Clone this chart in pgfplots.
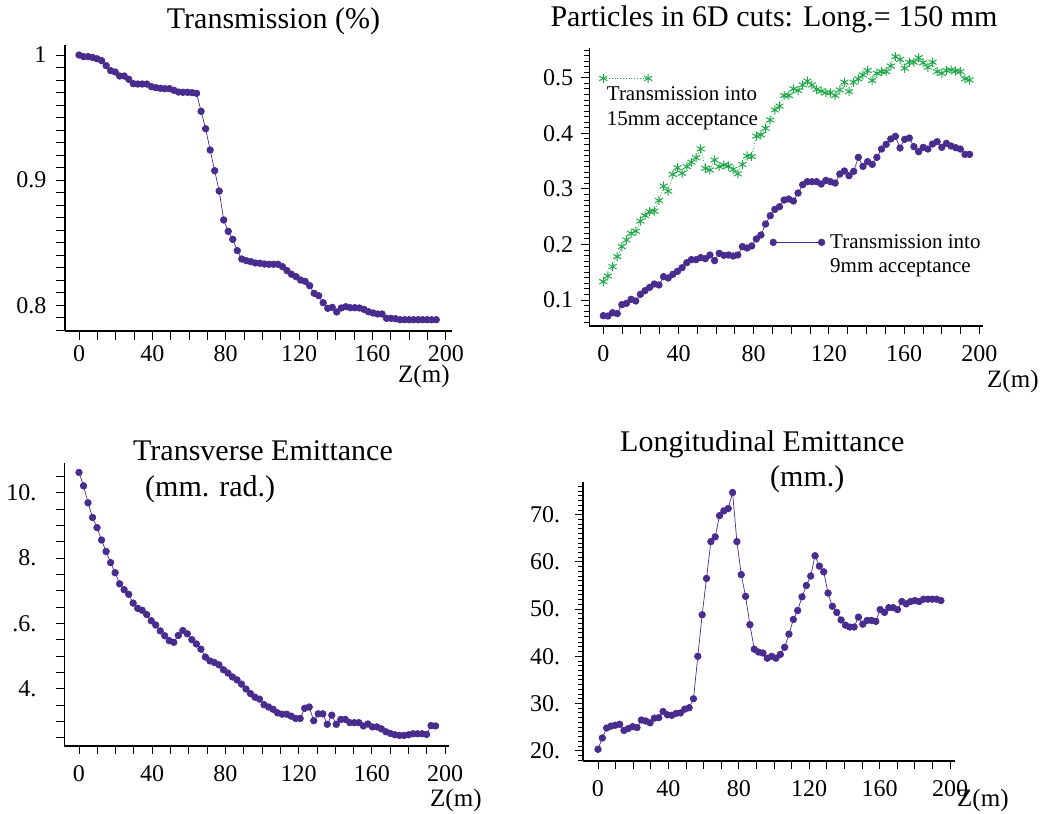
\documentclass[border=0pt]{standalone}
\usepackage{fontspec}
\setmainfont{Liberation Serif}
\usepackage{pgfplots}
\usepackage{pgfplotstable}
\pgfplotsset{compat=1.18}
\definecolor{mpurple}{RGB}{72,44,142}
\definecolor{mgreen}{RGB}{30,168,72}

\pgfplotstableread{
z T c9 c15 ex el
0.00 1.000 .0718 .133 10.62 20.3
2.47 .9987 .0712 .143 10.21 22.7
4.93 .9987 .0772 .160 9.69 24.8
7.40 .998 .0754 .178 9.24 25.2
9.86 .997 .0916 .196 8.93 25.4
12.33 .9955 .094 .208 8.55 25.6
14.80 .9915 .1012 .220 8.20 24.3
17.26 .9875 .0982 .224 7.86 24.7
19.73 .9864 .1102 .242 7.55 25.1
22.19 .9832 .1168 .252 7.21 24.9
24.66 .9832 .1228 .259 7.03 26.5
27.13 .9806 .1288 .260 6.89 26.3
29.59 .9771 .127 .279 6.62 25.9
32.06 .9768 .142 .305 6.46 26.9
34.52 .9768 .1396 .296 6.40 27.0
36.99 .9768 .1462 .326 6.27 28.3
39.46 .9747 .1516 .338 6.08 27.6
41.92 .9739 .1582 .328 5.95 27.5
44.39 .9734 .1672 .340 5.77 27.9
46.85 .9731 .1726 .348 5.62 28.0
49.32 .9731 .1726 .356 5.47 28.8
51.79 .9718 .1762 .372 5.42 29.1
54.25 .9704 .1744 .337 5.63 31.0
56.72 .9702 .181 .334 5.78 40.0
59.18 .9702 .1708 .352 5.68 48.8
61.65 .9699 .184 .340 5.50 56.5
64.12 .9694 .1804 .343 5.37 64.3
66.58 .955 .181 .341 5.21 65.3
69.05 .9411 .1792 .335 4.97 69.8
71.51 .9241 .181 .327 4.85 70.8
73.98 .9076 .196 .344 4.80 71.3
76.45 .8913 .1936 .359 4.73 74.7
78.91 .8682 .1972 .358 4.58 64.3
81.38 .8591 .2098 .395 4.48 57.3
83.84 .8527 .217 .397 4.36 52.7
86.31 .8437 .2367 .409 4.27 46.7
88.78 .8370 .2517 .424 4.14 41.5
91.24 .8357 .2631 .442 3.99 40.9
93.71 .8349 .2679 .449 3.85 40.7
96.17 .8338 .2799 .468 3.74 39.6
98.64 .8336 .2817 .468 3.68 40.0
101.11 .8330 .2781 .480 3.51 39.6
103.57 .8328 .2925 .477 3.44 40.4
106.04 .8328 .3075 .487 3.37 41.9
108.50 .8328 .3129 .494 3.26 44.7
110.97 .8309 .3129 .487 3.22 47.8
113.44 .8277 .3129 .479 3.22 49.7
115.90 .8248 .3087 .476 3.16 52.6
118.37 .8229 .3153 .473 3.09 55.0
120.83 .8202 .3129 .473 3.09 57.0
123.30 .8192 .3105 .468 3.40 61.3
125.77 .8157 .3267 .478 3.44 59.1
128.23 .8096 .3321 .492 3.02 57.9
130.70 .8077 .3237 .475 3.23 53.4
133.16 .8021 .3315 .492 3.23 50.6
135.63 .7976 .3567 .498 2.91 49.3
138.10 .7984 .3405 .505 3.19 47.7
140.56 .7947 .3489 .513 2.91 46.6
143.03 .7979 .3441 .495 3.06 46.2
145.49 .7989 .3567 .508 3.06 46.2
147.96 .7981 .3717 .511 2.96 48.3
150.43 .7981 .3801 .511 2.96 46.8
152.89 .7979 .3897 .521 2.96 47.6
155.36 .7968 .3945 .538 2.86 47.6
157.82 .7949 .3735 .533 2.92 47.4
160.29 .7939 .3891 .517 2.83 49.9
162.76 .7931 .3915 .528 2.83 49.3
165.22 .7931 .3759 .528 2.77 50.3
167.69 .7896 .3669 .536 2.68 50.3
170.15 .7896 .3747 .527 2.63 49.9
172.62 .7893 .3717 .519 2.59 51.6
175.09 .7885 .3807 .528 2.57 51.1
177.55 .7885 .3849 .511 2.57 51.6
180.02 .7885 .3747 .508 2.59 51.8
182.48 .7885 .3819 .513 2.62 51.6
184.95 .7885 .3771 .514 2.62 52.1
187.42 .7885 .3741 .512 2.62 52.1
189.88 .7885 .3717 .511 2.60 52.1
192.35 .7885 .3621 .498 2.87 52.1
194.81 .7885 .3621 .496 2.86 51.8
}\data

\pgfplotsset{
  mystyle/.style={
    scale only axis, anchor=south west,
    axis x line*=bottom, axis y line*=left,
    tick align=outside,
    axis line style={black, line width=1.1pt},
    every tick/.style={black, line width=0.9pt},
    clip=false,
    tick label style={font=\fontsize{24}{28}\selectfont, inner sep=0pt},
  },
  purp/.style={mpurple, line width=0.7pt, mark=*, mark size=3.3pt, mark options={fill=mpurple, draw=mpurple}},
  grn/.style={mgreen, dotted, line width=0.8pt, mark=asterisk, mark size=4.6pt, mark options={solid, line width=1pt}},
}

\begin{document}
\begin{tikzpicture}[x=1pt,y=1pt]
\path[use as bounding box] (0pt,0pt) rectangle (1042pt,814pt);

% Panel 1: Transmission
\begin{axis}[mystyle, at={(65pt,483pt)}, width=387pt, height=286pt,
  xmin=-7.64, xmax=203.4, ymin=0.7795, ymax=1.008,
  xtick={0,40,80,120,160,200}, xticklabels={0,40,80,120,160,200},
  minor xtick={10,20,30,50,60,70,90,100,110,130,140,150,170,180,190},
  ytick={0.8,0.9,1}, yticklabels={0.8,0.9,1},
  minor ytick={0.78,0.79,0.81,0.82,0.83,0.84,0.85,0.86,0.87,0.88,0.89,0.91,0.92,0.93,0.94,0.95,0.96,0.97,0.98,0.99},
  major tick length=9pt, minor tick length=9pt,
  xticklabel style={yshift=-5pt}, yticklabel style={xshift=-9.3pt}]
\addplot[purp] table[x=z,y=T]{\data};
\end{axis}

% Panel 2: Particles in 6D cuts
\begin{axis}[mystyle, at={(589.3pt,488pt)}, width=394pt, height=277.7pt,
  xmin=-7.45, xmax=202.1, ymin=0.0532, ymax=0.553,
  xtick={0,10,...,200}, xticklabels={0,,,,40,,,,80,,,,120,,,,160,,,,200},
  ytick={0.1,0.2,0.3,0.4,0.5}, yticklabels={0.1,0.2,0.3,0.4,0.5},
  minor ytick={0.06,0.07,0.08,0.09,0.11,0.12,0.13,0.14,0.15,0.16,0.17,0.18,0.19,0.21,0.22,0.23,0.24,0.25,0.26,0.27,0.28,0.29,0.31,0.32,0.33,0.34,0.35,0.36,0.37,0.38,0.39,0.41,0.42,0.43,0.44,0.45,0.46,0.47,0.48,0.49,0.51,0.52,0.53,0.54,0.55},
  major tick length=8pt, minor tick length=5pt,
  xticklabel style={yshift=-11pt}, yticklabel style={xshift=-8pt}]
\addplot[grn] table[x=z,y=c15]{\data};
\addplot[purp] table[x=z,y=c9]{\data};
\addplot[grn] coordinates {(0,0.4988) (23.9,0.4988)};
\addplot[purp] coordinates {(90.4,0.2037) (116.1,0.2037)};
\end{axis}

% Panel 3: Transverse emittance
\begin{axis}[mystyle, at={(64.3pt,68pt)}, width=385pt, height=282.7pt,
  xmin=-8.03, xmax=202.3, ymin=2.246, ymax=10.9,
  xtick={0,40,80,120,160,200}, xticklabels={0,40,80,120,160,200},
  minor xtick={10,20,30,50,60,70,90,100,110,130,140,150,170,180,190},
  ytick={4,6,8,10}, yticklabels={4.,.6.,8.,10.},
  minor ytick={2.5,3,3.5,4.5,5,5.5,6.5,7,7.5,8.5,9,9.5,10.5},
  major tick length=8pt, minor tick length=8pt,
  xticklabel style={yshift=-11pt}, yticklabel style={xshift=-19.6pt}]
\addplot[purp] table[x=z,y=ex]{\data};
\end{axis}

% Panel 4: Longitudinal emittance
\begin{axis}[mystyle, at={(583pt,53pt)}, width=372pt, height=278.5pt,
  xmin=-8.5, xmax=202.8, ymin=17.82, ymax=76.82,
  xtick={0,10,...,200}, xticklabels={0,,,,40,,,,80,,,,120,,,,160,,,,200},
  ytick={20,30,40,50,60,70}, yticklabels={20.,30.,40.,50.,60.,70.},
  minor ytick={18,19,21,22,23,24,25,26,27,28,29,31,32,33,34,35,36,37,38,39,41,42,43,44,45,46,47,48,49,51,52,53,54,55,56,57,58,59,61,62,63,64,65,66,67,68,69,71,72,73,74,75,76},
  major tick length=8pt, minor tick length=5pt,
  xticklabel style={yshift=-11.6pt}, yticklabel style={xshift=-14.7pt}]
\addplot[purp] table[x=z,y=el]{\data};
\end{axis}

% Titles
\begin{scope}[every node/.style={inner sep=0pt, font=\fontsize{30}{34}\selectfont}]
\node[anchor=base] at (273.5pt,785pt) {Transmission (\%)};
\node[anchor=base] at (774pt,787pt) {Particles in 6D cuts: Long.= 150 mm};
\node[anchor=base west] at (133pt,353pt) {Transverse Emittance};
\node[anchor=base west] at (145pt,317pt) {(mm. rad.)};
\node[anchor=base west] at (620pt,362pt) {Longitudinal Emittance};
\node[anchor=base west] at (770pt,327pt) {(mm.)};
\end{scope}

% Z(m) labels
\begin{scope}[every node/.style={inner sep=0pt, font=\fontsize{25}{28}\selectfont, anchor=base west}]
\node at (398pt,431pt) {Z(m)};
\node at (987pt,426pt) {Z(m)};
\node at (430pt,7pt) {Z(m)};
\node at (957pt,7pt) {Z(m)};
\end{scope}

% Legend texts
\begin{scope}[every node/.style={inner sep=0pt, font=\fontsize{21}{24}\selectfont, anchor=base west}]
\node at (606.7pt,713.3pt) {Transmission into};
\node at (606.7pt,688.3pt) {15mm acceptance};
\node at (830pt,565.7pt) {Transmission into};
\node at (830pt,541.3pt) {9mm acceptance};
\end{scope}
\end{tikzpicture}
\end{document}
